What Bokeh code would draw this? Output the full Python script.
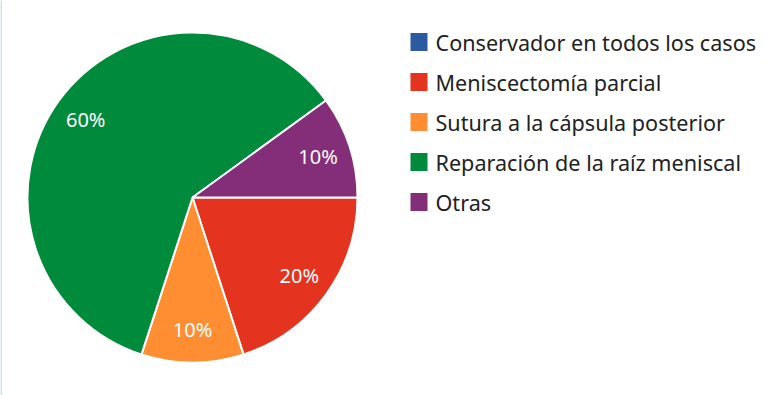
import numpy as np
from bokeh.plotting import figure
from bokeh.models import Range1d, ColumnDataSource, Span
from bokeh.core.properties import value
from bokeh.embed import file_html
from bokeh.resources import INLINE

categories = ["Conservador en todos los casos", "Meniscectomía parcial",
              "Sutura a la cápsula posterior", "Reparación de la raíz meniscal", "Otras"]
values = [0, 20, 10, 60, 10]
colors = ["#2c5aa0", "#e4331f", "#fe8e31", "#008a3b", "#842e7a"]

W, H = 782, 395
FONT = "Noto Sans"
p = figure(width=W, height=H, output_backend="svg", toolbar_location=None,
           x_range=Range1d(0, W), y_range=Range1d(0, H), min_border=0,
           outline_line_color=None)
p.axis.visible = False
p.grid.visible = False
p.background_fill_color = "white"
p.border_fill_color = "white"

# faint page border at the left
p.add_layout(Span(location=0.5, dimension="height", line_color="#d3e4eb", line_width=2))

cx, cy, R = 192, H - 197, 165
vals = np.array(values, dtype=float)
frac = vals / vals.sum()
cum = np.concatenate([[0], np.cumsum(frac)])
start = -cum[:-1] * 2 * np.pi
end = -cum[1:] * 2 * np.pi

src = ColumnDataSource(dict(start=start, end=end, color=colors, cat=categories))
p.wedge(x=cx, y=cy, radius=R, start_angle="start", end_angle="end", direction="clock",
        fill_color="color", line_color="white", line_width=2, source=src)

mid = (start + end) / 2
lr = 0.8 * R
mask = vals > 0
lab = ColumnDataSource(dict(
    x=cx + lr * np.cos(mid[mask]), y=cy + lr * np.sin(mid[mask]),
    t=[f"{int(v)}%" for v in vals[mask]]))
p.text(x="x", y="y", text="t", source=lab, text_color="white",
       text_font=value(FONT), text_font_size="20px", text_align="center",
       text_baseline="middle")

# legend
n = len(categories)
ly0 = H - 41.5
step = 40
leg = ColumnDataSource(dict(
    x=[418.5] * n, y=[ly0 - i * step for i in range(n)],
    tx=[435] * n, cat=categories, color=colors))
p.rect(x="x", y="y", width=17, height=18, fill_color="color", line_color=None, source=leg)
p.text(x="tx", y="y", text="cat", source=leg, text_color="#222222",
       text_font=value(FONT), text_font_size="21.6px", text_align="left",
       text_baseline="middle")

open("out.html", "w").write(file_html(p, INLINE))
